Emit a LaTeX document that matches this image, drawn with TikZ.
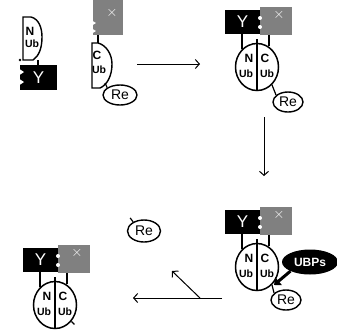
\documentclass[tikz,border=0pt]{standalone}
\usepackage{fontspec}
\setmainfont{Liberation Sans}
\usetikzlibrary{arrows.meta, shapes.geometric, positioning}
\tikzset{every node/.append style={align=center}}

\tikzset{
  ybox/.style={fill=black, text=white, inner sep=0pt, minimum width=35pt,
               minimum height=24pt, font=\fontsize{17}{17}\selectfont},
  xbox/.style={fill=black!50, inner sep=0pt, minimum width=32pt, minimum height=28pt},
  xmark/.style={text=white, inner sep=0pt, font=\Large},
  ubball/.style={ellipse, draw, line width=1.5pt, fill=white, inner sep=0pt,
                 minimum width=43pt, minimum height=47pt},
  ubhalf/.style={draw, line width=1.4pt, fill=white},
  ubtext/.style={inner sep=0pt, font=\bfseries\fontsize{10.5}{10.5}\selectfont},
  endtext/.style={inner sep=0pt, font=\bfseries\fontsize{12}{12}\selectfont},
  retag/.style={ellipse, draw, line width=1.4pt, fill=white, inner sep=0pt,
                minimum width=31pt, minimum height=20pt, font=\fontsize{14}{14}\selectfont},
  stalk/.style={line width=2.2pt},
  tether/.style={line width=1.2pt},
  flow/.style={line width=1pt, -{Straight Barb[length=4pt,width=9pt]}},
}

\begin{document}
\begin{tikzpicture}[x=1pt,y=-1pt]
\useasboundingbox (0,0) rectangle (337,330);

% ── N-terminal half on Y ──────────────────────────────────────────────
\node[ybox, minimum width=37pt, minimum height=25pt] (Ya) at (38.5,77.5) {Y};
\fill[white] (18,68) -- (24,72) -- (18,76) -- cycle;
\fill[white] (18,78) -- (24,82) -- (18,86) -- cycle;
\draw[ubhalf] (23,17) -- (31,17) .. controls (39,19) and (42,28) .. (42,37)
  .. controls (42,48) and (39,56) .. (33,60) -- (23,60) -- cycle;
\node[endtext] (na) at (30,31) {N};
\node[ubtext] (ula) at (32,44) {Ub};
\coordinate (nfoot) at (38,60);
\draw[stalk] (nfoot) -- (nfoot |- Ya.north);
\fill (20,60) circle (1.3);

% ── C-terminal half under X ───────────────────────────────────────────
\node[xbox, minimum width=30pt, minimum height=35pt] (Xa) at (108,17.5) {};
\node[xmark] (xa) at (112,13) {$\times$};
\fill[white] (91,20) -- (96,23) -- (91,26) -- cycle;
\fill[white] (91,28) -- (96,31) -- (91,34) -- cycle;
\draw[ubhalf] (92,43) -- (98,43) .. controls (106,45) and (112,54) .. (112,64)
  .. controls (112,76) and (107,85) .. (100,88) -- (92,88) -- cycle;
\node[endtext] (ca) at (97,55) {C};
\node[ubtext] (ura) at (99,70) {Ub};
\coordinate (chead) at (98,43);
\draw[stalk] (chead) -- (chead |- Xa.south);
\coordinate (cfoot) at (105,83);
\node[retag, minimum width=34pt] (Rea) at (120,95) {Re};
\draw[tether] (cfoot) -- (Rea.150);

% ── the joined complexes ──────────────────────────────────────────────
\foreach \cx/\cy/\cid in {225/10/b, 225/210/c, 23/248/d} {
  \node[xbox] (X\cid) at (\cx+51,\cy+11) {};
  \node[ybox] (Y\cid) at (\cx+17.5,\cy+12) {Y};
  \fill[white] (\cx+35,\cy+8) circle (2);
  \fill[white] (\cx+35,\cy+17) circle (2);
  \node[xmark] (x\cid) at (\cx+54,\cy+5) {$\times$};
  \node[ubball] (ub\cid) at (\cx+32,\cy+57) {};
  \draw[stalk] (ub\cid.130) -- (ub\cid.130 |- Y\cid.south);
  \draw[stalk] (ub\cid.60) -- (ub\cid.60 |- X\cid.south);
  \draw[line width=2.5pt] ([yshift=4pt]ub\cid.north) -- (ub\cid.south);
  \node[endtext] (n\cid) at (\cx+24,\cy+48) {N};
  \node[endtext] (c\cid) at (\cx+40,\cy+48) {C};
  \node[ubtext] (ul\cid) at (\cx+21,\cy+64) {Ub};
  \node[ubtext] (ur\cid) at (\cx+42,\cy+64) {Ub};
}

% reporter still attached
\node[retag, minimum width=30pt] (Reb) at (288,102) {Re};
\draw[tether] (ubb.-50) -- (Reb.150);
\node[retag, minimum width=30pt] (Rec) at (286,300) {Re};
\draw[tether] (ubc.-50) -- (Rec.150);

% protease bubble
\node[ellipse, fill=black, text=white, inner sep=0pt, minimum width=56pt,
      minimum height=25pt, font=\bfseries\fontsize{12}{12}\selectfont] (ubps) at (310,262) {UBPs};
\coordinate (ubpstip) at (274,285);
\draw[line width=3pt, -{Triangle[length=6pt,width=10pt]}] (ubps.205) -- (ubpstip);

% released reporter and cut stub
\node[retag, minimum width=33pt, minimum height=22pt] (Ref) at (144,231) {Re};
\draw[tether] (Ref.140) -- ++(-3,-4);
\draw[tether] (ubd.-45) -- ++(3,3);

% ── reaction arrows ───────────────────────────────────────────────────
\coordinate (joinA) at (137,64);   \coordinate (joinB) at (200,64);
\coordinate (cutA)  at (264,117);  \coordinate (cutB)  at (264,176);
\coordinate (restA) at (222,298);  \coordinate (restB) at (133,298);
\coordinate (freeA) at (200,298);  \coordinate (freeB) at (172,271);
\draw[flow] (joinA) -- (joinB);
\draw[flow] (cutA) -- (cutB);
\draw[flow] (restA) -- (restB);
\draw[flow] (freeA) -- (freeB);

\end{tikzpicture}
\end{document}
